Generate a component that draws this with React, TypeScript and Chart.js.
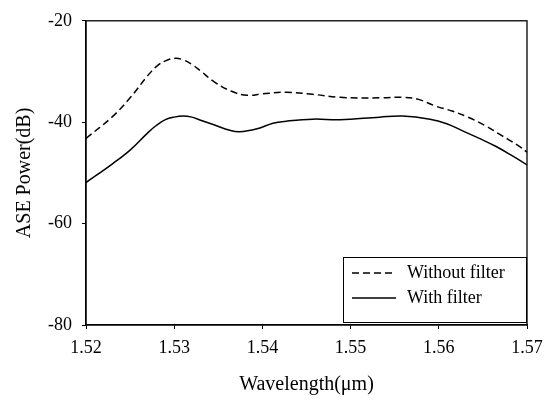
import React, { useEffect, useRef } from "react";
import { Chart, registerables } from "chart.js";

Chart.register(...registerables);

// Data (wavelength in µm, ASE power in dB)
const withoutFilterX = [1.52, 1.523, 1.525, 1.527, 1.528, 1.529, 1.5301, 1.531, 1.532, 1.533, 1.5345, 1.5365, 1.5383, 1.54, 1.5427, 1.5457, 1.5488, 1.5535, 1.5559, 1.5577, 1.5596, 1.5615, 1.5633, 1.5653, 1.5671, 1.569, 1.57];
const withoutFilterY = [-43.2, -38.9, -35.2, -30.8, -29.0, -27.9, -27.4, -27.7, -28.6, -29.9, -32.0, -33.9, -34.7, -34.4, -34.1, -34.5, -35.1, -35.2, -35.1, -35.5, -36.8, -37.8, -39.0, -40.7, -42.6, -44.6, -45.9];
const withFilterX = [1.52, 1.523, 1.525, 1.527, 1.528, 1.529, 1.53, 1.531, 1.532, 1.533, 1.5345, 1.5363, 1.5374, 1.5394, 1.5412, 1.5427, 1.5457, 1.5488, 1.5533, 1.5559, 1.559, 1.5609, 1.5627, 1.5646, 1.5665, 1.5684, 1.57];
const withFilterY = [-51.9, -48.2, -45.5, -42.1, -40.6, -39.5, -39.0, -38.8, -39.0, -39.6, -40.5, -41.6, -41.9, -41.3, -40.2, -39.8, -39.4, -39.5, -39.0, -38.8, -39.4, -40.3, -41.7, -43.2, -44.8, -46.7, -48.4];
const seriesLabels = ["Without filter", "With filter"];
const xTicks = [1.52, 1.53, 1.54, 1.55, 1.56, 1.57];
const yTicks = [-80, -60, -40, -20];
const xTitle = "Wavelength(\u03bcm)";
const yTitle = "ASE Power(dB)";

const FONT = "'Liberation Serif', 'Times New Roman', serif";

const framePlugin = {
  id: "frameAndLegend",
  afterDatasetsDraw(chart: any) {
    const { ctx, chartArea } = chart;
    ctx.save();
    ctx.strokeStyle = "#000";
    ctx.lineWidth = 1.3;
    ctx.setLineDash([]);
    ctx.strokeRect(chartArea.left, chartArea.top, chartArea.right - chartArea.left, chartArea.bottom - chartArea.top);

    // legend box
    const w = 183, h = 65;
    const bx = chartArea.right - w - 1;
    const by = chartArea.bottom - h - 3;
    ctx.fillStyle = "#fff";
    ctx.fillRect(bx, by, w, h);
    ctx.lineWidth = 1;
    ctx.strokeRect(bx + 0.5, by + 0.5, w, h);
    ctx.font = `18px ${FONT}`;
    ctx.textBaseline = "middle";
    ctx.fillStyle = "#000";
    chart.data.datasets.forEach((ds: any, i: number) => {
      const cy = by + 16 + i * 25;
      ctx.strokeStyle = ds.borderColor;
      ctx.lineWidth = ds.borderWidth;
      ctx.setLineDash(ds.borderDash || []);
      ctx.beginPath();
      ctx.moveTo(bx + 9, cy);
      ctx.lineTo(bx + 53, cy);
      ctx.stroke();
      ctx.setLineDash([]);
      ctx.fillText(ds.label, bx + 64, cy);
    });
    ctx.restore();
  },
};

export default function App() {
  const ref = useRef<HTMLCanvasElement | null>(null);
  useEffect(() => {
    if (!ref.current) return;
    const toPts = (xs: number[], ys: number[]) => xs.map((x, i) => ({ x, y: ys[i] }));
    const chart = new Chart(ref.current, {
      type: "line",
      data: {
        datasets: [
          {
            label: seriesLabels[0],
            data: toPts(withoutFilterX, withoutFilterY),
            borderColor: "#000",
            borderWidth: 1.5,
            borderDash: [7, 4],
            pointRadius: 0,
            tension: 0.4,
            fill: false,
          },
          {
            label: seriesLabels[1],
            data: toPts(withFilterX, withFilterY),
            borderColor: "#000",
            borderWidth: 1.5,
            pointRadius: 0,
            tension: 0.4,
            fill: false,
          },
        ],
      },
      options: {
        responsive: false,
        animation: false,
        events: [],
        layout: { padding: { top: 15, right: 26, left: 0, bottom: 0 } },
        plugins: { legend: { display: false }, tooltip: { enabled: false } },
        scales: {
          x: {
            type: "linear",
            min: 1.52,
            max: 1.57,
            afterBuildTicks: (s: any) => { s.ticks = xTicks.map((v) => ({ value: v })); },
            afterFit: (s: any) => { s.height = 76; },
            ticks: {
              color: "#000",
              font: { family: FONT, size: 18 },
              padding: 8,
              maxRotation: 0,
              autoSkip: false,
              callback: (v: any) => Number(v).toFixed(2),
            },
            grid: { drawOnChartArea: false, drawTicks: true, tickLength: 4, color: "#000" },
            border: { display: true, color: "#000", width: 1.3 },
            title: { display: true, text: xTitle, color: "#000", font: { family: FONT, size: 20 }, padding: { top: 0, bottom: 4 } },
          },
          y: {
            type: "linear",
            min: -80,
            max: -20,
            afterBuildTicks: (s: any) => { s.ticks = yTicks.map((v) => ({ value: v })); },
            afterFit: (s: any) => { s.width = 86; },
            ticks: {
              color: "#000",
              font: { family: FONT, size: 18 },
              padding: 10,
              callback: (v: any) => String(v),
            },
            grid: { drawOnChartArea: false, drawTicks: true, tickLength: 4, color: "#000" },
            border: { display: true, color: "#000", width: 1.3 },
            title: { display: true, text: yTitle, color: "#000", font: { family: FONT, size: 20 }, padding: { top: 13, bottom: 0 } },
          },
        },
      },
      plugins: [framePlugin],
    });
    return () => chart.destroy();
  }, []);
  return (
    <div style={{ position: "absolute", left: 0, top: 0, width: 553, height: 401, background: "#fff" }}>
      <canvas ref={ref} width={553} height={401} style={{ display: "block" }} />
    </div>
  );
}
